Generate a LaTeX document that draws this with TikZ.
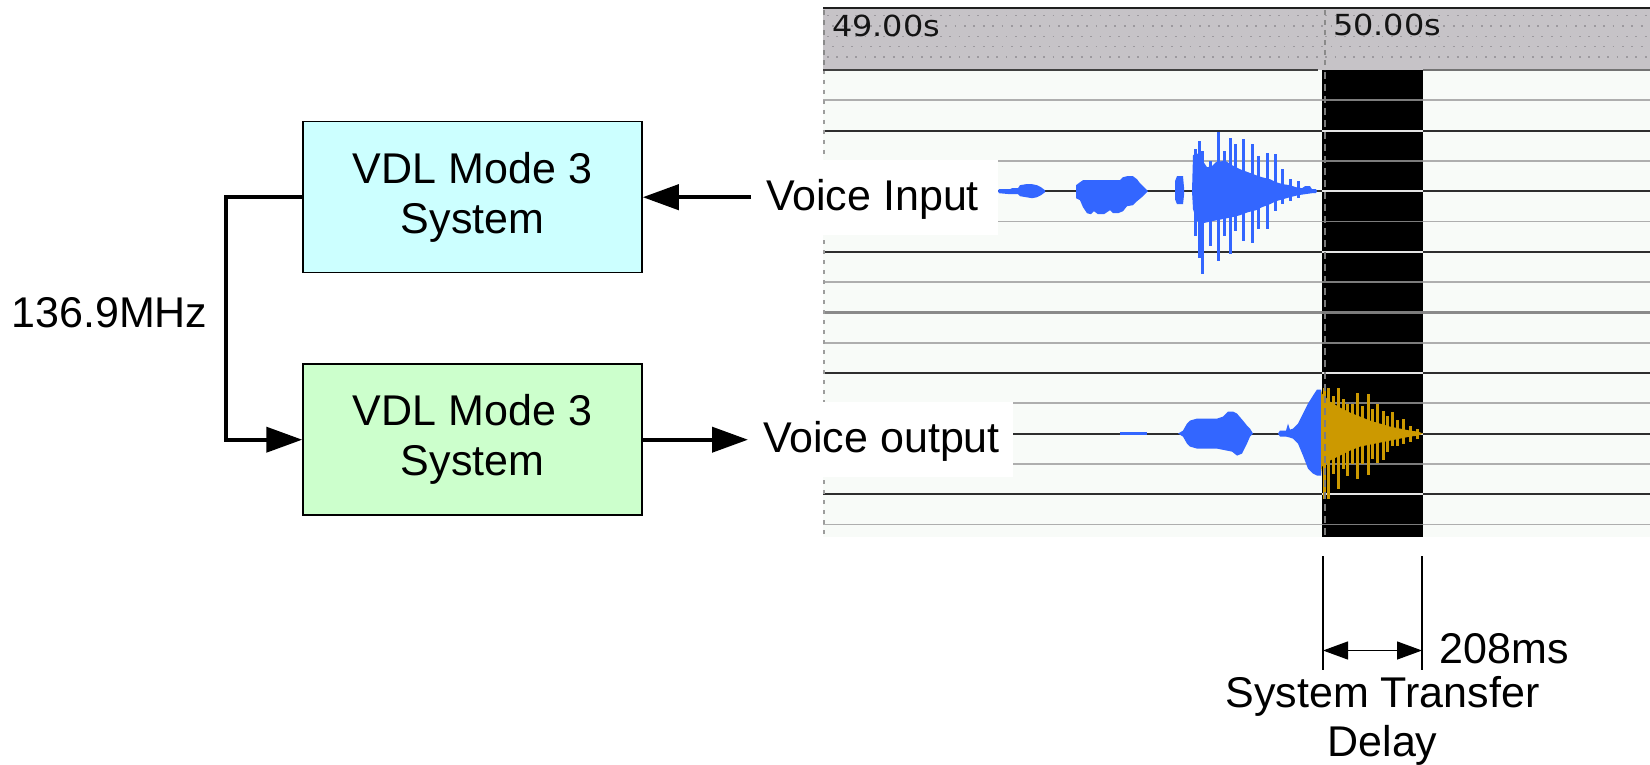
\documentclass[tikz,border=0pt]{standalone}
\usepackage{fontspec}
\setmainfont{Liberation Sans}
\newfontfamily\hdrfont{DejaVu Sans}
\usepackage{graphicx}
\usetikzlibrary{arrows.meta,calc}

\definecolor{boxcyan}{HTML}{CCFFFF}
\definecolor{boxgreen}{HTML}{CCFFCC}
\definecolor{waveblue}{HTML}{3366FF}
\definecolor{wavegold}{HTML}{CC9900}
\definecolor{hdrgray}{HTML}{C6C3C7}
\definecolor{hdrdot}{HTML}{9C999E}
\definecolor{panelbg}{HTML}{F8FBF8}
\definecolor{gridDark}{HTML}{2E2E2E}
\definecolor{gridGray}{HTML}{AEAEAE}
\definecolor{gridMid}{HTML}{8A8A8A}
\definecolor{bandDark}{HTML}{E4E4E4}
\definecolor{bandGray}{HTML}{7C7C7C}

\begin{document}
\begin{tikzpicture}[x=1pt,y=-1pt,
  sysbox/.style={draw=black, line width=1.5pt, minimum width=339pt,
    minimum height=151pt, align=center, inner sep=0pt,
    font=\fontsize{43}{50}\selectfont},
  lbl/.style={inner sep=0pt, font=\fontsize{43}{49}\selectfont},
  conn/.style={line width=4pt, line join=miter,
    -{Triangle[length=36pt,width=25pt]}},
  dimline/.style={line width=1.3pt},
  dimarrow/.style={line width=1.3pt,
    {Triangle[length=25pt,width=18pt]}-{Triangle[length=25pt,width=18pt]}},
  gdark/.style={draw=gridDark, line width=2pt},
  ggray/.style={draw=gridGray, line width=1.7pt},
  gmid/.style={draw=gridMid, line width=3pt},
  bdark/.style={draw=bandDark, line width=2pt},
  bgray/.style={draw=bandGray, line width=1.7pt},
  hdrtext/.style={inner sep=0pt, anchor=west, text=black!92},
  spike/.style={fill=waveblue}
]
\path[use as bounding box] (0,0) rectangle (1650,765);

% ---------- block diagram ----------
\node[sysbox, fill=boxcyan] (sysA) at (472.5,197.2) {VDL Mode 3\\System};
\node[sysbox, fill=boxgreen] (sysB) at (472.5,439.7) {VDL Mode 3\\System};
\node[lbl] (freq) at (109.5,313) {136.9MHz};

\draw[conn] (sysA.west) -- ++(-76,0) |- (sysB.west);

% ---------- recorder panel ----------
\fill[panelbg] (823,8) rectangle (1650,537);
\fill[hdrgray] (823,8) rectangle (1650,70);
\foreach \yy/\ph in {15.5/0,26/4,36.5/0,46.5/4,57/0}
  \draw[hdrdot, line width=1.8pt, dash pattern=on 1.8pt off 7.6pt,
        dash phase=\ph pt] (827,\yy) -- (1650,\yy);
\fill[black] (1322,70) rectangle (1423,537);

% grid lines (inverted inside the black marker band)
\foreach \yy in {130.6,191.2,251.8,373,433.6,494.2} {
  \draw[gdark] (823,\yy) -- (1322,\yy);
  \draw[gdark] (1423,\yy) -- (1650,\yy);
  \draw[bdark] (1322,\yy) -- (1423,\yy);
}
\foreach \yy in {100.3,160.9,221.5,282.1,342.7,403.3,463.9,524.5} {
  \draw[ggray] (823,\yy) -- (1322,\yy);
  \draw[ggray] (1423,\yy) -- (1650,\yy);
  \draw[bgray] (1322,\yy) -- (1423,\yy);
}
\draw[gmid] (823,312.4) -- (1322,312.4);
\draw[gmid] (1423,312.4) -- (1650,312.4);
\draw[bgray, line width=3pt] (1322,312.4) -- (1423,312.4);

% left edge of the track area
\draw[gridGray!90!black, line width=2pt, dash pattern=on 4pt off 6pt]
  (824,70) -- (824,537);

% white label patches
\fill[white] (823,160) rectangle (998,235);
\fill[white] (823,402) rectangle (1013,477);

\node[lbl, anchor=base west] (vin) at (766,210) {Voice Input};
\node[lbl, anchor=base west] (vout) at (763,452) {Voice output};

\draw[conn] ($(vin.west |- sysA.east)+(-15,0)$) -- (sysA.east);
\draw[conn] (sysB.east) -- ($(vout.west |- sysB.east)+(-15,0)$);

% ---------- input waveform ----------
\begin{scope}[shift={(0,191.2)}]
  \fill[waveblue] (998,0) -- (999,-2) -- (1010,-2) -- (1012,-3) -- (1018,-3)
    -- (1020,-6) -- (1026,-7) -- (1032,-7) -- (1037,-6) -- (1041,-4)
    -- (1045,-1) -- (1045,1) -- (1041,4) -- (1037,6) -- (1032,7)
    -- (1026,6) -- (1020,5) -- (1018,3) -- (1010,3) -- (999,2) -- cycle;
  \fill[waveblue] (1076,-6) -- (1080,-9) -- (1083,-11) -- (1120,-11)
    -- (1123,-14) -- (1127,-15) -- (1133,-15) -- (1137,-12) -- (1140,-8)
    -- (1143,-5) -- (1148,0) -- (1143,5) -- (1137,10) -- (1133,14)
    -- (1127,15) -- (1123,20) -- (1118,22) -- (1113,22) -- (1110,19)
    -- (1104,23) -- (1098,23) -- (1094,20) -- (1091,23) -- (1087,22)
    -- (1085,19) -- (1083,16) -- (1080,9) -- (1076,7) -- cycle;
  \fill[waveblue] (1175,-10) -- (1177,-15) -- (1183,-15) -- (1184,-4)
    -- (1184,4) -- (1183,13) -- (1177,13) -- (1175,8) -- cycle;
  \fill[waveblue] (1192,0) -- (1193,-36) -- (1197,-38) -- (1203,-30)
    -- (1207,-24) -- (1212,-25) -- (1216,-29) -- (1222,-30) -- (1226,-30)
    -- (1232,-26) -- (1240,-22) -- (1248,-19) -- (1256,-16) -- (1262,-14)
    -- (1270,-12) -- (1276,-9) -- (1283,-7) -- (1290,-6) -- (1296,-4)
    -- (1302,-3) -- (1305,-5) -- (1310,-5) -- (1312,-2) -- (1316,-2)
    -- (1317,0) -- (1316,2) -- (1312,2) -- (1305,3) -- (1298,4)
    -- (1290,6) -- (1283,8) -- (1276,10) -- (1270,13) -- (1262,16)
    -- (1256,19) -- (1248,21) -- (1240,24) -- (1232,26) -- (1222,28)
    -- (1212,30) -- (1203,32) -- (1197,30) -- (1193,18) -- cycle;
  \foreach \x/\t/\b in {1195/-42/45, 1199/-50/67, 1202/-40/83, 1210/-30/55,
      1218/-59/70, 1224/-40/45, 1230/-53/63, 1235/-47/40, 1243/-52/50,
      1252/-47/52, 1258/-35/38, 1267/-38/38, 1275/-37/20, 1282/-22/13,
      1290/-12/10, 1298/-10/7}
    \fill[spike] (\x-1.5,\t) rectangle (\x+1.5,\b);
\end{scope}

% ---------- output waveform ----------
\begin{scope}[shift={(0,433.6)}]
  \fill[waveblue] (1120,-1.5) rectangle (1147,1.5);
  \fill[waveblue] (1178,0) -- (1183,-3) -- (1187,-10) -- (1190,-13)
    -- (1197,-15) -- (1217,-15) -- (1223,-17) -- (1228,-22) -- (1233,-22)
    -- (1237,-20) -- (1243,-13) -- (1247,-8) -- (1250,-5) -- (1253,0)
    -- (1250,3) -- (1247,10) -- (1242,20) -- (1237,22) -- (1232,18)
    -- (1227,17) -- (1217,15) -- (1197,15) -- (1190,13) -- (1187,10)
    -- (1183,3) -- cycle;
  \fill[waveblue] (1278,0) -- (1280,-3) -- (1286,-3) -- (1288,-10)
    -- (1290,-4) -- (1293,-5) -- (1298,-10) -- (1303,-20) -- (1308,-30)
    -- (1313,-38) -- (1317,-44) -- (1321,-44) -- (1321,42) -- (1317,42)
    -- (1313,40) -- (1308,35) -- (1303,22) -- (1298,10) -- (1293,5)
    -- (1290,4) -- (1286,3) -- (1280,3) -- cycle;
  \fill[wavegold] (1321,-44) -- (1322,-40) -- (1330,-32) -- (1340,-26)
    -- (1350,-21) -- (1360,-17) -- (1370,-13) -- (1380,-10) -- (1390,-7)
    -- (1400,-5) -- (1410,-3) -- (1418,-2) -- (1423,0) -- (1418,2)
    -- (1410,3) -- (1400,5) -- (1390,7) -- (1380,9) -- (1370,11)
    -- (1360,13) -- (1350,17) -- (1340,22) -- (1330,27) -- (1322,33)
    -- (1321,42) -- cycle;
  \foreach \x/\t/\b in {1324/-46/65, 1328/-46/65, 1333/-38/40, 1338/-46/55,
      1343/-35/35, 1347/-30/42, 1352/-30/30, 1357/-41/45, 1362/-28/30,
      1368/-40/41, 1372/-25/25, 1377/-30/29, 1383/-23/26, 1387/-18/18,
      1392/-22/12, 1397/-14/12, 1403/-15/10, 1410/-8/8, 1417/-5/5}
    \fill[wavegold] (\x-1.5,\t) rectangle (\x+1.5,\b);
\end{scope}

% marker line inside the band
\draw[bandGray, line width=2pt, dash pattern=on 7pt off 5pt] (1325,72) -- (1325,537);

% ---------- time ruler ----------
\draw[gridMid, line width=1.5pt, dash pattern=on 5pt off 5pt] (1325,10) -- (1325,70);
\draw[gridMid, line width=1.5pt, dash pattern=on 5pt off 5pt] (824,10) -- (824,70);
\draw[black!88, line width=2.5pt] (823,8) -- (1650,8);
\draw[black!75, line width=2.5pt] (823,70) -- (1318,70);
\draw[black!55, line width=2pt] (1423,70) -- (1650,70);
\node[hdrtext] (t49) at (832,25.5) {\scalebox{1.1}[1]{\hdrfont\fontsize{29}{29}\selectfont 49.00s}};
\node[hdrtext] (t50) at (1333,25) {\scalebox{1.1}[1]{\hdrfont\fontsize{29}{29}\selectfont 50.00s}};

% ---------- delay dimension ----------
\coordinate (dTopL) at (1323,556);
\coordinate (dBotL) at (1323,670);
\coordinate (dTopR) at (1422,556);
\coordinate (dBotR) at (1422,670);
\coordinate (dArrL) at (1323,650.5);
\coordinate (dArrR) at (1422,650.5);
\draw[dimline] (dTopL) -- (dBotL);
\draw[dimline] (dTopR) -- (dBotR);
\draw[dimarrow] (dArrL) -- (dArrR);
\node[lbl] (dval) at (1504,649) {208ms};
\node[lbl, anchor=north, align=center] (dname) at (1382.5,676)
  {System Transfer\\Delay};
\end{tikzpicture}
\end{document}
